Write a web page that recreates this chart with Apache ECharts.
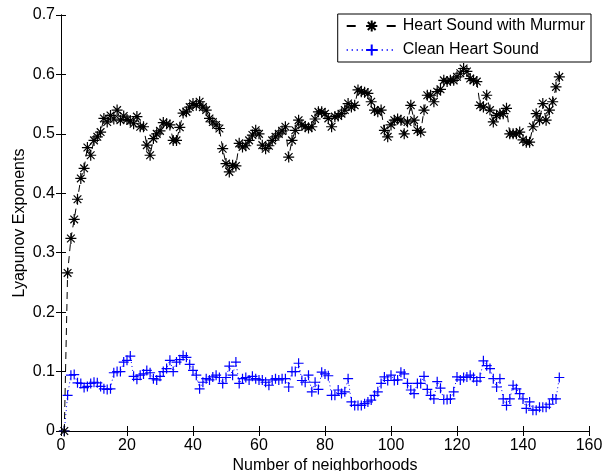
<!DOCTYPE html>
<html>
<head>
<meta charset="utf-8">
<script src="https://cdn.jsdelivr.net/npm/echarts@6/dist/echarts.min.js"></script>
<style>
  html, body { margin: 0; padding: 0; background: #fff; }
  #chart { width: 609px; height: 471px; }
</style>
</head>
<body>
<div id="chart"></div>
<script>
// Lyapunov exponent per number of neighborhoods (1..151)
const murmur = [
  0, 0.266, 0.324, 0.356, 0.390, 0.425, 0.442, 0.477, 0.464, 0.489,
  0.495, 0.503, 0.526, 0.520, 0.531, 0.525, 0.540, 0.523, 0.530, 0.524,
  0.522, 0.517, 0.529, 0.512, 0.512, 0.481, 0.464, 0.492, 0.500, 0.505,
  0.519, 0.517, 0.515, 0.489, 0.489, 0.511, 0.535, 0.537, 0.545, 0.551,
  0.548, 0.554, 0.545, 0.540, 0.526, 0.520, 0.515, 0.509, 0.475, 0.450,
  0.436, 0.447, 0.446, 0.484, 0.478, 0.480, 0.489, 0.498, 0.506, 0.500,
  0.481, 0.475, 0.480, 0.489, 0.495, 0.500, 0.505, 0.512, 0.461, 0.489,
  0.506, 0.523, 0.515, 0.512, 0.510, 0.512, 0.525, 0.537, 0.537, 0.534,
  0.526, 0.512, 0.529, 0.530, 0.534, 0.540, 0.551, 0.545, 0.548, 0.574,
  0.571, 0.570, 0.568, 0.554, 0.540, 0.537, 0.540, 0.506, 0.495, 0.515,
  0.523, 0.525, 0.523, 0.500, 0.520, 0.548, 0.523, 0.506, 0.503, 0.540,
  0.565, 0.565, 0.554, 0.571, 0.575, 0.590, 0.588, 0.590, 0.590, 0.596,
  0.602, 0.610, 0.605, 0.593, 0.590, 0.588, 0.548, 0.545, 0.565, 0.540,
  0.520, 0.531, 0.534, 0.534, 0.543, 0.500, 0.500, 0.500, 0.503, 0.490,
  0.486, 0.486, 0.512, 0.534, 0.523, 0.551, 0.523, 0.540, 0.554, 0.579,
  0.596
];
const clean = [
  0, 0.060, 0.094, 0.095, 0.081, 0.080, 0.073, 0.075, 0.080, 0.082,
  0.081, 0.075, 0.071, 0.070, 0.071, 0.098, 0.100, 0.100, 0.116, 0.119,
  0.126, 0.092, 0.087, 0.094, 0.096, 0.102, 0.098, 0.088, 0.086, 0.092,
  0.100, 0.105, 0.119, 0.100, 0.116, 0.120, 0.127, 0.124, 0.112, 0.102,
  0.094, 0.071, 0.082, 0.088, 0.086, 0.091, 0.094, 0.090, 0.080, 0.090,
  0.109, 0.094, 0.116, 0.080, 0.088, 0.090, 0.086, 0.092, 0.088, 0.086,
  0.086, 0.082, 0.077, 0.086, 0.088, 0.086, 0.088, 0.088, 0.074, 0.100,
  0.100, 0.114, 0.085, 0.082, 0.094, 0.066, 0.082, 0.070, 0.099, 0.096,
  0.093, 0.060, 0.060, 0.069, 0.063, 0.066, 0.088, 0.049, 0.043, 0.043,
  0.043, 0.046, 0.049, 0.052, 0.060, 0.066, 0.080, 0.091, 0.085, 0.094,
  0.085, 0.086, 0.099, 0.096, 0.080, 0.069, 0.063, 0.080, 0.080, 0.092,
  0.070, 0.060, 0.054, 0.083, 0.072, 0.053, 0.053, 0.054, 0.066, 0.091,
  0.086, 0.090, 0.091, 0.094, 0.090, 0.084, 0.090, 0.118, 0.110, 0.105,
  0.088, 0.074, 0.088, 0.054, 0.043, 0.054, 0.077, 0.071, 0.063, 0.054,
  0.038, 0.049, 0.035, 0.035, 0.040, 0.040, 0.040, 0.045, 0.054, 0.054,
  0.090
];
const seriesNames = ['Heart Sound with Murmur', 'Clean Heart Sound'];
const xTicks = [0, 20, 40, 60, 80, 100, 120, 140, 160];
const yTicks = [0, 0.1, 0.2, 0.3, 0.4, 0.5, 0.6, 0.7];

const font = 'Liberation Sans, Arial, Helvetica, sans-serif';
const starPath = 'path://M5,0L5,10M0,5L10,5M1.5,1.5L8.5,8.5M1.5,8.5L8.5,1.5';
const plusPath = 'path://M5,0L5,10M0,5L10,5';

const toPairs = arr => arr.map((v, i) => [i + 1, v]);

const chart = echarts.init(document.getElementById('chart'), null, { renderer: 'canvas' });

const xBase = {
  type: 'value',
  min: xTicks[0],
  max: xTicks[xTicks.length - 1],
  interval: xTicks[1] - xTicks[0],
  splitLine: { show: false },
  axisLine: { lineStyle: { color: '#000', width: 1 } },
  axisTick: { inside: true, length: 5, lineStyle: { color: '#000' } }
};
const yBase = {
  type: 'value',
  min: yTicks[0],
  max: yTicks[yTicks.length - 1],
  interval: 0.1,
  splitLine: { show: false },
  axisLine: { lineStyle: { color: '#000', width: 1 } },
  axisTick: { inside: true, length: 5, lineStyle: { color: '#000' } }
};

const option = {
  animation: false,
  backgroundColor: '#fff',
  textStyle: { fontFamily: font },
  grid: { left: 61, right: 20, top: 15, bottom: 40, containLabel: false, outerBoundsMode: 'none' },
  legend: {
    orient: 'vertical',
    right: 18,
    top: 14,
    align: 'left',
    padding: [4, 6, 4, 8],
    itemWidth: 50,
    itemHeight: 14,
    itemGap: 8,
    backgroundColor: '#fff',
    borderColor: '#000',
    borderWidth: 1,
    borderRadius: 0,
    textStyle: { fontFamily: font, fontSize: 16, color: '#000', padding: [0, 0, 0, 1] },
    data: [
      { name: seriesNames[0], lineStyle: { type: [9, 31] } },
      { name: seriesNames[1], lineStyle: { type: [1, 4] } }
    ]
  },
  xAxis: [
    Object.assign({}, xBase, {
      position: 'bottom',
      name: 'Number of neighborhoods',
      nameLocation: 'middle',
      nameGap: 27,
      nameMoveOverlap: false,
      nameTextStyle: { fontFamily: font, fontSize: 16, color: '#000' },
      axisLabel: { color: '#000', fontSize: 16, fontFamily: font, margin: 7 }
    }),
    Object.assign({}, xBase, { position: 'top', axisLabel: { show: false } })
  ],
  yAxis: [
    Object.assign({}, yBase, {
      position: 'left',
      name: 'Lyapunov Exponents',
      nameLocation: 'middle',
      nameGap: 33,
      nameMoveOverlap: false,
      nameTextStyle: { fontFamily: font, fontSize: 16, color: '#000' },
      axisLabel: {
        color: '#000', fontSize: 16, fontFamily: font, margin: 6,
        formatter: v => (v === 0 ? '0' : v.toFixed(1))
      }
    }),
    Object.assign({}, yBase, { position: 'right', axisLabel: { show: false } })
  ],
  series: [
    {
      name: seriesNames[1],
      type: 'line',
      data: toPairs(clean),
      symbol: plusPath,
      symbolSize: 10,
      showAllSymbol: true,
      clip: false,
      lineStyle: { color: '#0000ff', width: 1, type: [1, 3] },
      itemStyle: { color: '#0000ff', borderColor: '#0000ff', borderWidth: 1.2 },
      z: 2
    },
    {
      name: seriesNames[0],
      type: 'line',
      data: toPairs(murmur),
      symbol: starPath,
      symbolSize: 11,
      showAllSymbol: true,
      clip: false,
      lineStyle: { color: '#000', width: 1, type: [7, 5] },
      itemStyle: { color: '#000', borderColor: '#000', borderWidth: 1.2 },
      z: 3
    }
  ]
};

chart.setOption(option);
</script>
</body>
</html>
